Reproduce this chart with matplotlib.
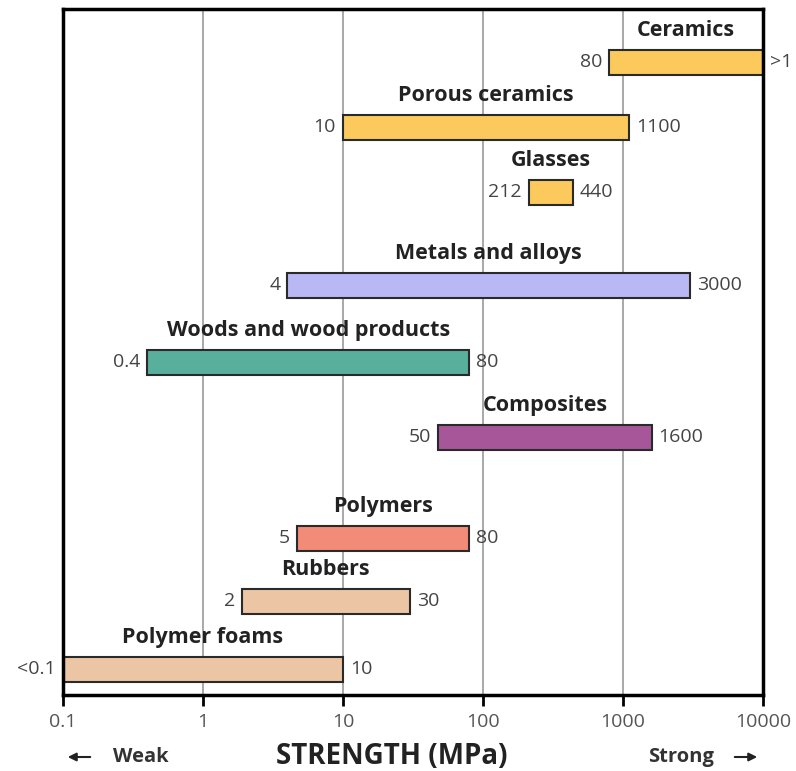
import numpy as np
import matplotlib.pyplot as plt
from matplotlib.patches import FancyArrowPatch

plt.rcParams['font.family'] = ['Open Sans', 'DejaVu Sans']

materials = ['Ceramics', 'Porous ceramics', 'Glasses', 'Metals and alloys',
             'Woods and wood products', 'Composites', 'Polymers', 'Rubbers',
             'Polymer foams']
low = [800, 10, 212, 4, 0.4, 48, 4.7, 1.9, 0.1]
high = [10000, 1100, 440, 3000, 80, 1600, 80, 30, 10]
low_labels = ['80', '10', '212', '4', '0.4', '50', '5', '2', '<0.1']
high_labels = ['>1', '1100', '440', '3000', '80', '1600', '80', '30', '10']
colors = ['#FBC95C', '#FBC95C', '#FBC95C', '#BAB8F4', '#58AF9B',
          '#A8569A', '#F28C79', '#ECC6A4', '#ECC6A4']
ticks = [0.1, 1, 10, 100, 1000, 10000]
tick_labels = ['0.1', '1', '10', '100', '1000', '10000']

# vertical layout (row centres, axes units from the top)
rows = [53, 118, 183, 276, 353, 428, 529, 592, 660]
bar_h = 25

fig = plt.figure(figsize=(7.96, 7.71), dpi=100)
ax = fig.add_axes([63 / 796, 76 / 771, 700 / 796, 686 / 771])
ax.set_xscale('log')
ax.set_xlim(0.1, 10000)
ax.set_ylim(686, 0)

for x in ticks[1:-1]:
    ax.axvline(x, color='#999999', lw=1.2, zorder=0)

for i in range(len(materials)):
    lo, hi, y = low[i], high[i], rows[i]
    ax.barh(y, hi - lo, left=lo, height=bar_h, color=colors[i],
            edgecolor='#2a2a2a', lw=1.5, zorder=2)
    ax.annotate(low_labels[i], (lo, y), xytext=(-5, 0), textcoords='offset points',
                ha='right', va='center', fontsize=14, color='#444444',
                annotation_clip=False)
    ax.annotate(high_labels[i], (hi, y), xytext=(5, 0), textcoords='offset points',
                ha='left', va='center', fontsize=14, color='#444444',
                annotation_clip=False)
    mid = np.sqrt(lo * hi)
    ax.annotate(materials[i], (mid, y - bar_h / 2), xytext=(0, 6),
                textcoords='offset points', ha='center', va='bottom',
                fontsize=15.5, fontweight='bold', color='#222222')

for s in ax.spines.values():
    s.set_linewidth(2.5)
    s.set_color('black')
ax.set_yticks([])
ax.set_xticks(ticks)
ax.set_xticklabels(tick_labels, fontsize=14, color='#555555')
ax.minorticks_off()
ax.tick_params(axis='x', length=8, width=2, direction='out', pad=5)

yb = 1 - 757 / 771
fig.text(392 / 796, yb, 'STRENGTH (MPa)', ha='center', va='center',
         fontsize=20, fontweight='bold', color='#222222')
fig.text(113 / 796, yb, 'Weak', ha='left', va='center',
         fontsize=14.5, fontweight='bold', color='#333333')
fig.text(714 / 796, yb, 'Strong', ha='right', va='center',
         fontsize=14.5, fontweight='bold', color='#333333')
fig.patches.append(FancyArrowPatch((93 / 796, yb), (65 / 796, yb), transform=fig.transFigure,
                                   arrowstyle='-|>', mutation_scale=12, lw=1.5, color='#222222'))
fig.patches.append(FancyArrowPatch((732 / 796, yb), (760 / 796, yb), transform=fig.transFigure,
                                   arrowstyle='-|>', mutation_scale=12, lw=1.5, color='#222222'))

fig.savefig('out.png', dpi=100)
